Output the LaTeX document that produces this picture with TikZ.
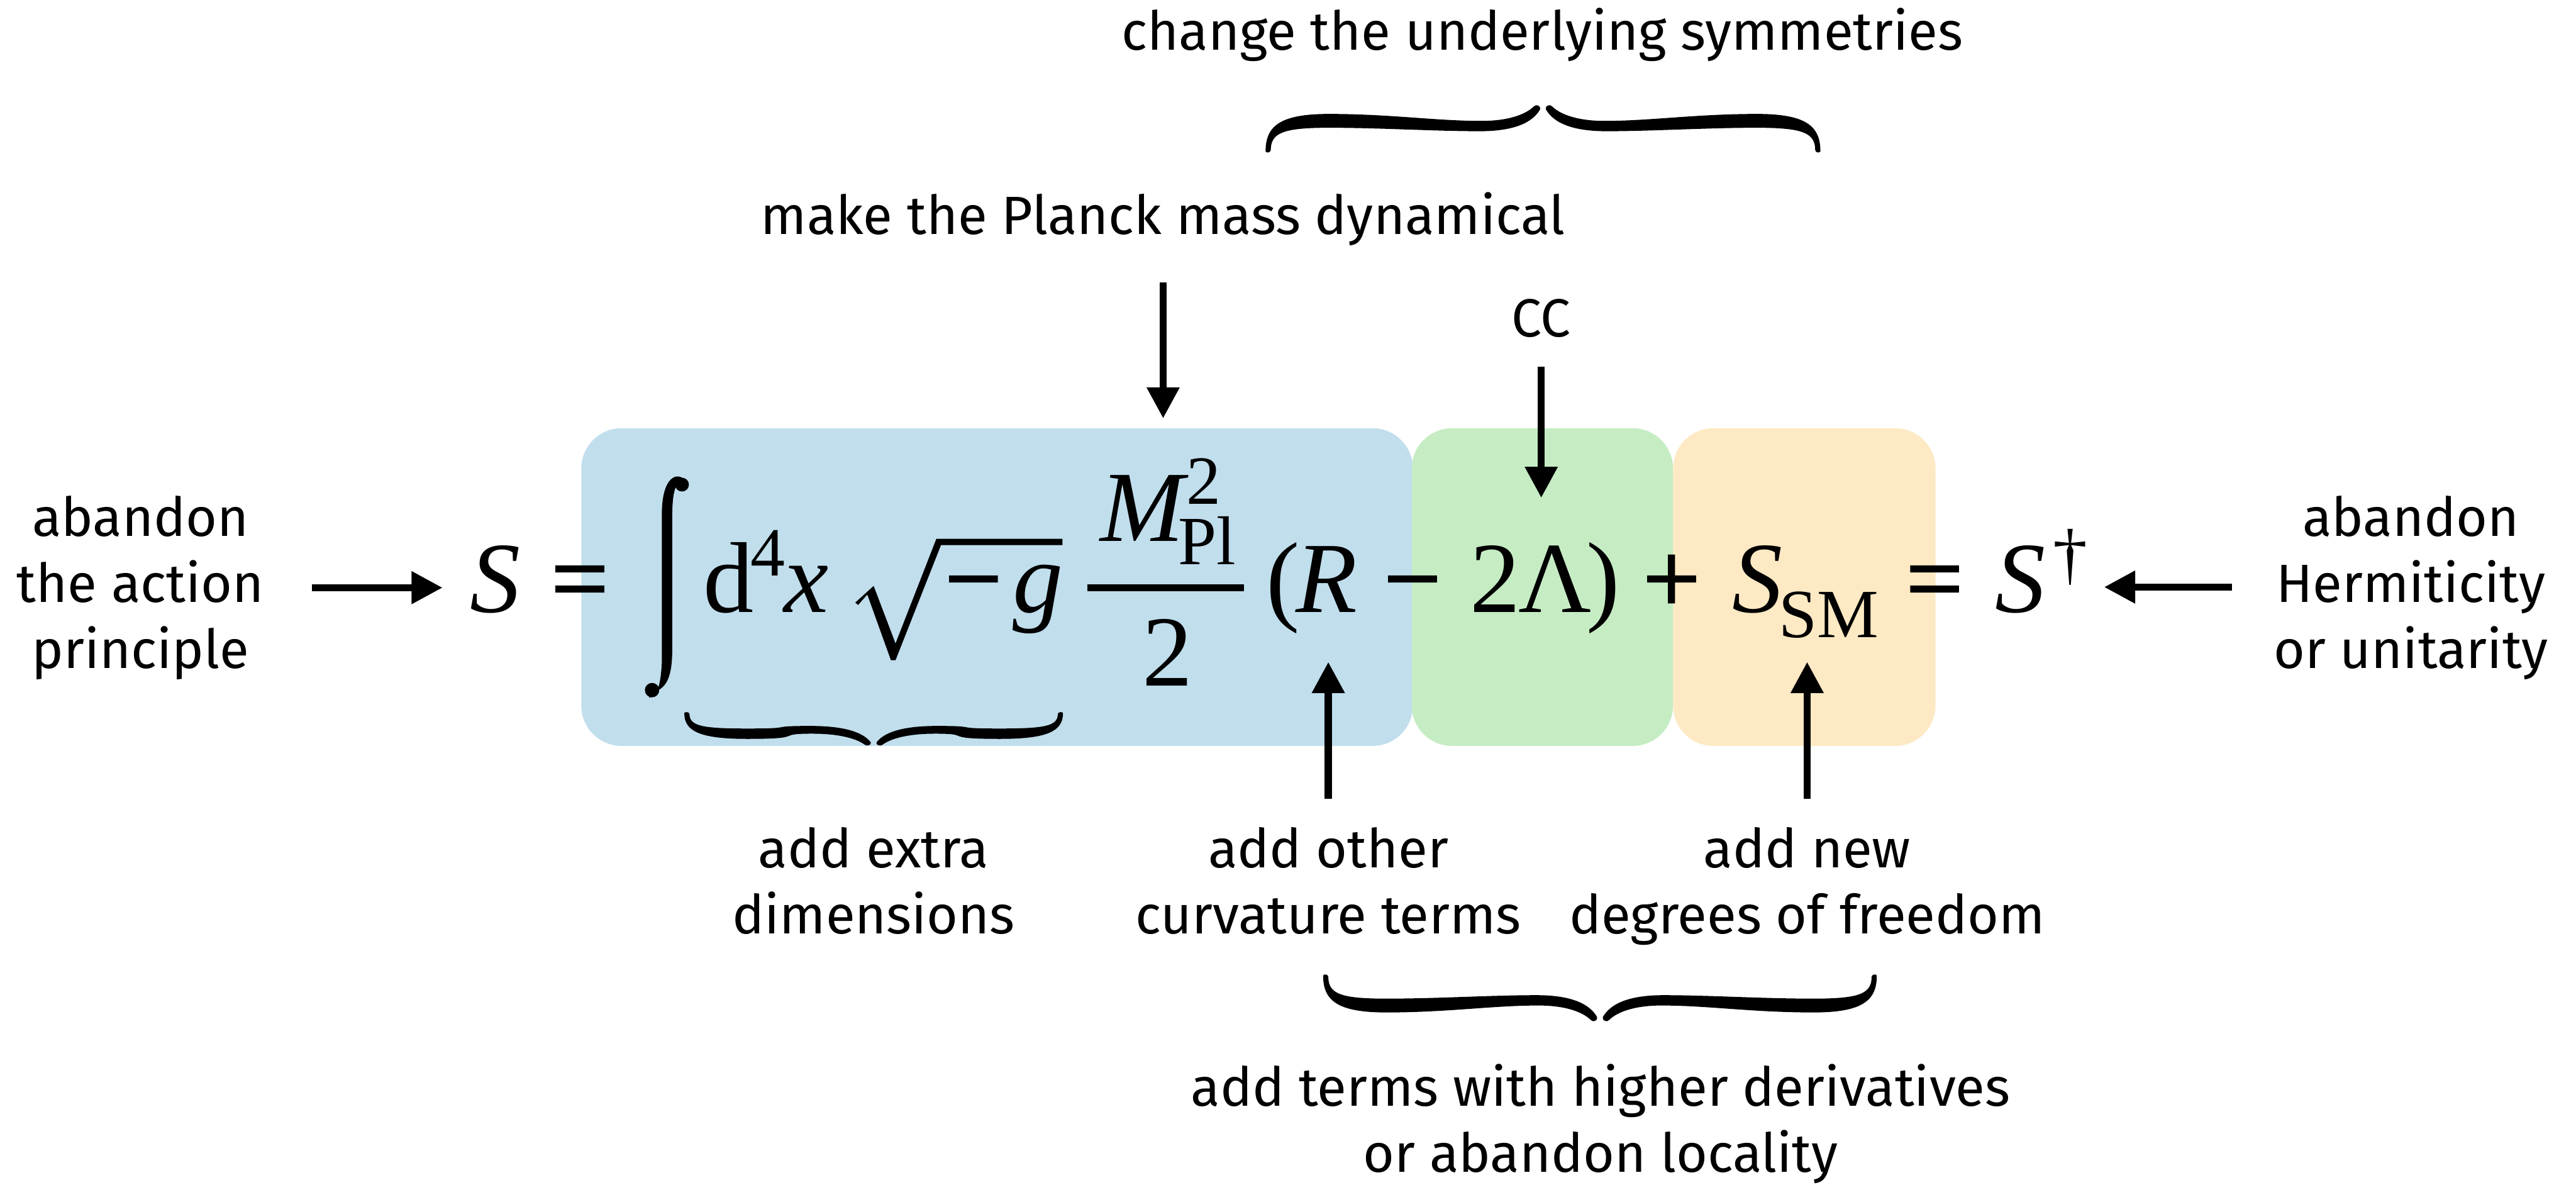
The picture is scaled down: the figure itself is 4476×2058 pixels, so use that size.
\documentclass[tikz,border=0pt]{standalone}
\usepackage{fontspec}
\usetikzlibrary{arrows.meta,calc}
\newfontfamily\lblfont{Fira Sans}
\newfontfamily\eqfont{Liberation Serif}
\newfontfamily\opfont[FakeBold=2]{Liberation Serif}
\definecolor{boxblue}{RGB}{193,222,237}
\definecolor{boxgreen}{RGB}{198,236,196}
\definecolor{boxorange}{RGB}{253,233,196}
\newcommand\stk[1]{\begin{tabular}[t]{@{}c@{}}#1\end{tabular}}
% half of a curly brace, tip at origin, ends at y=#2 (image coordinates, y down)
\newcommand\bracefill[2]{%
  \fill ({-#1},{#2}) .. controls ({-#1},{0.45*#2}) and ({-#1+25},15) .. ({-#1+110},15)
    .. controls ({-#1+220},15) and (-180,28) .. (-100,27)
    .. controls (-55,26) and (-28,14) .. (-16,2)
    .. controls (-12,-3) and (-3,1) .. (-5,7)
    .. controls (-18,30) and (-50,45) .. (-110,45)
    .. controls (-190,45) and ({-#1+200},39) .. ({-#1+110},39)
    .. controls ({-#1+30},39) and ({-#1+9},{0.6*#2}) .. ({-#1+9},{#2-2})
    .. controls ({-#1+8},{#2+3}) and ({-#1+1},{#2+3}) .. ({-#1},{#2}) -- cycle;}
\newcommand\fullbrace[2]{\bracefill{#1}{#2}\begin{scope}[xscale=-1]\bracefill{#1}{#2}\end{scope}}
\tikzset{
  lbl/.style={font=\lblfont\fontsize{9.35pt}{11.45pt}\selectfont, inner sep=0pt, anchor=base},
  eq/.style={font=\eqfont\fontsize{17.5pt}{20pt}\selectfont, inner sep=0pt, anchor=base west},
  eqop/.style={font=\opfont\fontsize{17.5pt}{20pt}\selectfont, inner sep=0pt, anchor=base west},
  eqs/.style={font=\eqfont\fontsize{12pt}{14pt}\selectfont, inner sep=0pt, anchor=base west},
  arr/.style={line width=1.25pt, -{Triangle[length=5.4pt,width=5.4pt]}},
  termbox/.style={rounded corners=7pt, inner sep=0pt, draw=none},
}
\begin{document}
\begin{tikzpicture}[x=0.1pt,y=-0.1pt]
\useasboundingbox (0,0) rectangle (4476,2058);
% coloured boxes behind the terms
\node[termbox, fill=boxblue, minimum width=144.5pt, minimum height=55.2pt] (boxG) at (1732.5,1020) {};
\node[termbox, fill=boxgreen, minimum width=45.4pt, minimum height=55.2pt] (boxL) at (2680,1020) {};
\node[termbox, fill=boxorange, minimum width=45.6pt, minimum height=55.2pt] (boxM) at (3135,1020) {};

% equation
\node[eq] (nS) at (815,1064) {\itshape S};
\node[eqop] (nEq1) at (956,1064) {=};
% integral sign
\fill (1190,834) .. controls (1178,820) and (1151,826) .. (1150,890) -- (1150,1150)
  .. controls (1148,1195) and (1140,1212) .. (1128,1212) -- (1128,1204)
  .. controls (1150,1200) and (1168,1190) .. (1168,1130) -- (1168,900)
  .. controls (1168,845) and (1176,835) .. (1190,842) -- cycle;
\fill (1185,842) circle[radius=1.2pt];
\fill (1133,1199) circle[radius=1.25pt];
\node[eq] (nD) at (1220,1064) {d};
\node[eqs] (nFour) at (1302,1001) {4};
\node[eq] (nX) at (1360,1064) {\itshape x};
% radical
\fill (1486,1047) -- (1518,1018) -- (1556,1118) -- (1627,936) -- (1846,936) -- (1846,947)
  -- (1635,947) -- (1556,1147) -- (1548,1147) -- (1507,1033) -- (1491,1051) -- cycle;
\node[eqop] (nMinus1) at (1640,1064) {−};
\node[eq] (nG) at (1758,1064) {\itshape g};
% fraction
\draw[line width=1.15pt] (1889,1021) -- (2161,1021);
\node[eq] (nM) at (1910,940) {\itshape M};
\node[eqs] (nPl) at (2045,981) {Pl};
\node[eqs] (nSq) at (2060,876) {2};
\node[eq] (nDen) at (1983,1192) {2};
\node[eq] (nLP) at (2198,1064) {(};
\node[eq] (nR) at (2250,1064) {\itshape R};
\node[eqop] (nMinus2) at (2403,1064) {−};
\node[eq] (nTwo) at (2552,1064) {2};
\node[eq] (nLam) at (2636,1064) {Λ};
\node[eq] (nRP) at (2755,1064) {)};
\node[eqop] (nPlus) at (2853,1064) {+};
\node[eq] (nS2) at (3008,1064) {\itshape S};
\node[eqs] (nSM) at (3089,1107) {SM};
\node[eqop] (nEq2) at (3310,1064) {=};
\node[eq] (nS3) at (3465,1064) {\itshape S};
\node[eqs] (nDag) at (3565,1003) {†};

% labels
\node[lbl] (lblL) at (244,932) {\stk{abandon\\the action\\principle}};
\node[lbl] (lblR) at (4189,932) {\stk{abandon\\Hermiticity\\or unitarity}};
\node[lbl] (lblSym) at (2680,87) {change the underlying symmetries};
\node[lbl] (lblPlanck) at (2021,407) {make the Planck mass dynamical};
\node[lbl] (lblCC) at (2678,585) {CC};
\node[lbl] (lblDim) at (1518,1508) {\stk{add extra\\dimensions}};
\node[lbl] (lblCurv) at (2308,1508) {\stk{add other\\curvature terms}};
\node[lbl] (lblDof) at (3140,1508) {\stk{add new\\degrees of freedom}};
\node[lbl] (lblHigher) at (2781,1922) {\stk{add terms with higher derivatives\\or abandon locality}};

% braces
\begin{scope}[shift={(2681,183)}]\fullbrace{482}{80}\end{scope}
\begin{scope}[shift={(2780,1774)}, yscale=-1]\fullbrace{481}{79}\end{scope}
\begin{scope}[shift={(1518,1295)}, yscale=-0.75]\fullbrace{329}{75}\end{scope}

% arrows
\coordinate (tipL) at (769,1021);
\coordinate (tipR) at (3656,1020);
\coordinate (tipPlanck) at (2021,727);
\coordinate (tipCC) at (2678,865);
\coordinate (tipRicci) at (2308,1150);
\coordinate (tipSM) at (3140,1150);
\draw[arr, shorten <=8.1pt] (lblL.east |- tipL) -- (tipL);
\draw[arr, shorten <=7.1pt] (lblR.west |- tipR) -- (tipR);
\draw[arr, shorten <=6.2pt] (lblPlanck.south -| tipPlanck) -- (tipPlanck);
\draw[arr, shorten <=4.9pt] (lblCC.south -| tipCC) -- (tipCC);
\draw[arr, shorten <=3.8pt] (lblCurv.north -| tipRicci) -- (tipRicci);
\draw[arr, shorten <=3.8pt] (lblDof.north -| tipSM) -- (tipSM);
\end{tikzpicture}
\end{document}
